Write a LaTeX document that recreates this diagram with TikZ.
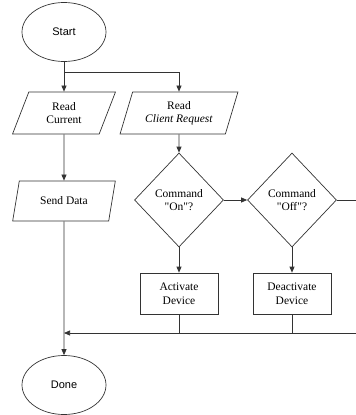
\documentclass[tikz,border=0pt]{standalone}
\usepackage{fontspec}
\setmainfont{Liberation Serif}
\newfontfamily\termfont{Liberation Sans}
\usetikzlibrary{shapes.geometric,arrows.meta}

\tikzset{
  line/.style={draw=black!80, line width=0.7pt},
  arrow/.style={line, -{Triangle[length=6pt,width=5pt]}},
  terminal/.style={ellipse, line, minimum width=84pt, minimum height=59pt, font=\termfont\fontsize{11}{13}\selectfont},
  io/.style={trapezium, trapezium left angle=70, trapezium right angle=110, trapezium stretches=true, line, minimum height=42pt, align=center, inner sep=1pt},
  decision/.style={diamond, line, minimum width=89pt, minimum height=94pt, align=center, inner sep=1pt},
  process/.style={rectangle, line, minimum width=78pt, minimum height=41pt, align=center}
}

\begin{document}
\begin{tikzpicture}[x=1pt, y=-1pt, font=\fontsize{11.5}{13.5}\selectfont]
  \useasboundingbox (0,0) rectangle (356,415);
  % Nodes
  \node (start) [terminal] at (64, 32) {Start};
  \node (readcur) [io, minimum width=103pt] at (64, 113) {Read\\Current};
  \node (readreq) [io, minimum width=118pt] at (179, 113) {Read\\\textit{Client Request}};
  \node (senddata) [io, minimum width=103pt, minimum height=40pt] at (64, 201) {Send Data};
  \node (cmdon) [decision] at (179, 200) {Command\\\textquotedbl On\textquotedbl?};
  \node (cmdoff) [decision] at (292, 200) {Command\\\textquotedbl Off\textquotedbl?};
  \node (activate) [process] at (179, 293.5) {Activate\\Device};
  \node (deactivate) [process] at (292, 293.5) {Deactivate\\Device};
  \node (done) [terminal] at (64, 385) {Done};
  % Coordinates
  \coordinate (split) at (64, 72);
  \coordinate (offexit) at (357, 200);
  \coordinate (join) at (64, 333);
  \coordinate (joinon) at (179, 333);
  \coordinate (joinoff) at (292, 333);
  \coordinate (rightin) at (357, 333);
  % Arrow
  \draw[line] (start) -- (split);
  \draw[arrow] (split) -- (readcur);
  \draw[arrow] (split) -| (readreq);
  \draw[arrow] (readcur) -- (senddata);
  \draw[arrow] (readreq) -- (cmdon);
  \draw[arrow] (cmdon) -- (cmdoff);
  \draw[line] (cmdoff) -- (offexit);
  \draw[arrow] (cmdon) -- (activate);
  \draw[arrow] (cmdoff) -- (deactivate);
  \draw[line] (activate) -- (joinon);
  \draw[line] (deactivate) -- (joinoff);
  \draw[arrow] (rightin) -- (join);
  \draw[arrow] (senddata) -- (done);
\end{tikzpicture}
\end{document}
